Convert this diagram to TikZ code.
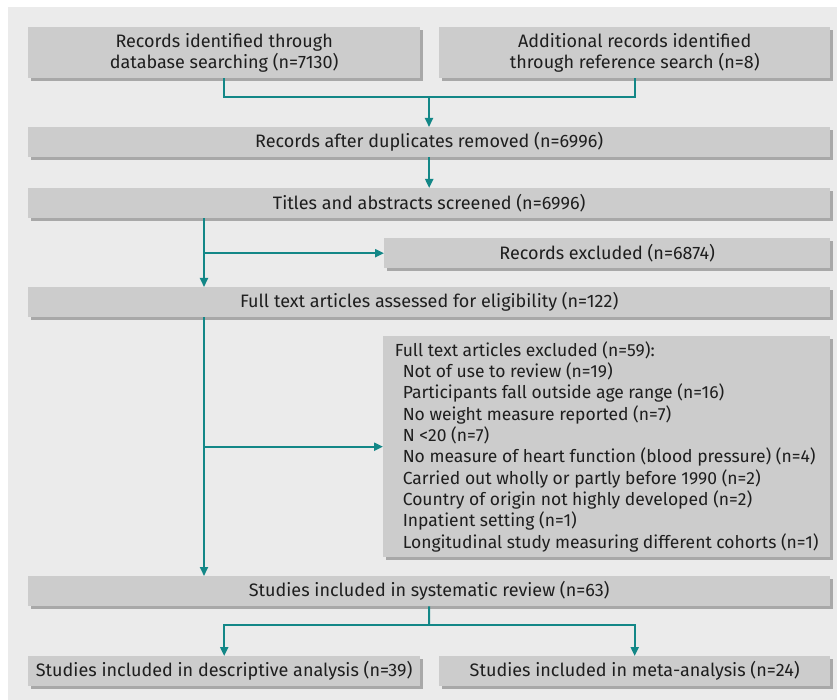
\documentclass[tikz,border=0pt]{standalone}
\usepackage{fontspec}
\setmainfont{Fira Sans}
\usetikzlibrary{arrows.meta,shadows}
\definecolor{bgc}{HTML}{EBEBEB}
\definecolor{boxc}{HTML}{CCCCCC}
\definecolor{shc}{HTML}{A8A8A8}
\definecolor{tealc}{HTML}{138787}
\definecolor{txtc}{HTML}{1E1E1E}
\tikzset{
  box/.style={fill=boxc, inner sep=0pt, anchor=north west, text=txtc,
    font=\fontsize{18}{21.5}\selectfont, align=center,
    drop shadow={shadow xshift=3pt, shadow yshift=-3pt, fill=shc, opacity=1}},
  listbox/.style={box, font=\fontsize{17.5}{21.3}\selectfont, align=left},
  link/.style={draw=tealc, line width=2pt},
  arrowlink/.style={link, -{Triangle[length=9pt,width=8pt]}}
}
\begin{document}
\begin{tikzpicture}[x=1pt,y=-1pt]
\useasboundingbox (0,0) rectangle (837,700);
\fill[bgc] (8,7) rectangle (837,700);

\node[box, minimum width=392pt, minimum height=51pt] (b1) at (28,27)
  {Records identified through\\database searching (n=7130)};
\node[box, minimum width=391pt, minimum height=51pt] (b2) at (439,27)
  {Additional records identified\\through reference search (n=8)};
\node[box, minimum width=802pt, minimum height=30pt] (b3) at (28,127)
  {Records after duplicates removed (n=6996)};
\node[box, minimum width=802pt, minimum height=30pt] (b4) at (28,188)
  {Titles and abstracts screened (n=6996)};
\node[box, minimum width=446pt, minimum height=30pt] (b5) at (384,238)
  {Records excluded (n=6874)};
\node[box, minimum width=802pt, minimum height=30pt] (b6) at (28,287)
  {Full text articles assessed for eligibility (n=122)};
\node[listbox, minimum width=447pt, minimum height=221pt] (b7) at (383,336)
  {Full text articles excluded (n=59):\\
   \hspace*{8pt}Not of use to review (n=19)\\
   \hspace*{8pt}Participants fall outside age range (n=16)\\
   \hspace*{8pt}No weight measure reported (n=7)\\
   \hspace*{8pt}N <20 (n=7)\\
   \hspace*{8pt}No measure of heart function (blood pressure) (n=4)\\
   \hspace*{8pt}Carried out wholly or partly before 1990 (n=2)\\
   \hspace*{8pt}Country of origin not highly developed (n=2)\\
   \hspace*{8pt}Inpatient setting (n=1)\\
   \hspace*{8pt}Longitudinal study measuring different cohorts (n=1)};
\node[box, minimum width=802pt, minimum height=30pt] (b8) at (28,576)
  {Studies included in systematic review (n=63)};
\node[box, minimum width=392pt, minimum height=30pt] (b9) at (28,656)
  {Studies included in descriptive analysis (n=39)};
\node[box, minimum width=391pt, minimum height=30pt] (b10) at (439,656)
  {Studies included in meta-analysis (n=24)};

\coordinate (j1) at (429,97);
\coordinate (lx) at (204,0);
\coordinate (j2) at (429,625);

\draw[link] (b1.south) |- (b2.south |- j1) -- (b2.south);
\draw[arrowlink] (j1) -- (j1 |- b3.north);
\draw[arrowlink] (b3.south) -- (b4.north);
\draw[arrowlink] (b4.south -| lx) -- (b6.north -| lx);
\draw[arrowlink] (b5.west -| lx) -- (b5.west);
\draw[arrowlink] (b6.south -| lx) -- (b8.north -| lx);
\draw[arrowlink] (b7.west -| lx) -- (b7.west);
\draw[link] (b8.south) -- (j2);
\draw[arrowlink] (j2) -| (b9.north);
\draw[arrowlink] (j2) -| (b10.north);
\end{tikzpicture}
\end{document}
